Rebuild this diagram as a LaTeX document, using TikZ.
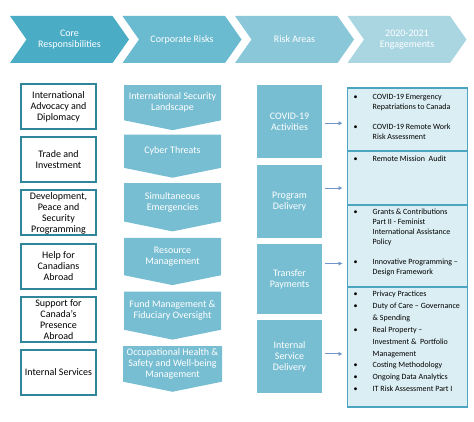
\documentclass[tikz,border=0pt]{standalone}
\usepackage{fontspec}
\setmainfont{Carlito}
\usetikzlibrary{arrows.meta,positioning,shapes.symbols}
\definecolor{chevA}{RGB}{75,172,198}
\definecolor{chevB}{RGB}{106,186,208}
\definecolor{chevC}{RGB}{138,200,217}
\definecolor{chevD}{RGB}{170,214,226}
\definecolor{riskfill}{RGB}{120,190,210}
\definecolor{coreline}{RGB}{49,133,155}
\definecolor{engline}{RGB}{75,165,190}
\definecolor{engfill}{RGB}{219,238,243}
\definecolor{arrowline}{RGB}{110,150,200}

\begin{document}
\begin{tikzpicture}[x=1pt,y=-1pt,
      font=\fontsize{10}{11}\selectfont,node distance=6pt,
      phase/.style={signal,signal from=west,signal to=east,signal pointer angle=110,
                    minimum width=119pt,minimum height=47pt,inner sep=0pt,
                    text=white,align=center},
      corebox/.style={draw=coreline,line width=2pt,minimum width=75pt,
                      minimum height=45pt,inner sep=1pt,align=center},
      riskdown/.style={signal,signal to=south,signal pointer angle=157,fill=riskfill,
                       minimum width=97pt,inner sep=0pt,text=white,align=center},
      areabox/.style={fill=riskfill,minimum width=65pt,minimum height=73pt,
                      text=white,align=center},
      engbox/.style={draw=engline,line width=1.2pt,fill=engfill,
                     minimum width=120pt,outer sep=0pt},
      englist/.style={anchor=north west,inner sep=0pt,align=left},
      arr/.style={-{Latex[length=4pt,width=4.5pt]},line width=1pt,arrowline,
                  shorten <=3pt,shorten >=5pt}]
    \useasboundingbox (0,0) rectangle (474,422);
    % header chevrons
    \node[phase,fill=chevA] (core) at (69.5,39.5) {Core\\Responsibilities};
    \node[phase,fill=chevB] (corp) at (182,39.5) {Corporate Risks};
    \node[phase,fill=chevC] (area) at (294.5,39.5) {Risk Areas};
    \node[phase,fill=chevD] (engage) at (407,39.5) {2020-2021\\Engagements};
    % core responsibilities
    \node[corebox] (diplo) at (58.5,106.5) {International\\Advocacy and\\Diplomacy};
    \node[corebox,below=6.2pt of diplo] (trade) {Trade and\\Investment};
    \node[corebox,below=6.2pt of trade] (devel) {Development,\\Peace and\\Security\\Programming};
    \node[corebox,below=6.2pt of devel] (help) {Help for\\Canadians\\Abroad};
    \node[corebox,below=6.2pt of help] (presence) {Support for\\Canada's\\Presence\\Abroad};
    \node[corebox,below=6.2pt of presence] (internal) {Internal Services};
    % corporate risks
    \node[riskdown,minimum height=44pt,anchor=north] (secur) at (172.5,85)
      {International Security\\Landscape};
    \node[riskdown,minimum height=39pt,below=4pt of secur] (cyber) {Cyber Threats};
    \node[riskdown,minimum height=44pt,below=5pt of cyber] (emerg) {Simultaneous\\Emergencies};
    \node[riskdown,minimum height=43pt,below=6pt of emerg] (resrc) {Resource\\Management};
    \node[riskdown,minimum height=47pt,below=6pt of resrc] (fund)
      {Fund Management \&\\Fiduciary Oversight};
    \node[riskdown,minimum height=45pt,minimum width=99pt,below=6pt of fund] (ohs)
      {Occupational Health \&\\Safety and Well-being\\Management};
    % risk areas
    \node[areabox,anchor=north] (covid) at (289.5,85) {COVID-19\\Activities};
    \node[areabox,below=6pt of covid] (prog) {Program\\Delivery};
    \node[areabox,minimum height=70pt,below=6pt of prog] (transf) {Transfer\\Payments};
    \node[areabox,below=6pt of transf] (servic) {Internal\\Service\\Delivery};
    % engagements
    \node[engbox,minimum height=63pt,anchor=north] (eng1) at (407.5,88) {};
    \node[engbox,minimum height=54pt,below=0pt of eng1] (eng2) {};
    \node[engbox,minimum height=82pt,below=0pt of eng2] (eng3) {};
    \node[engbox,minimum height=120pt,below=0pt of eng3] (eng4) {};
    \node[englist,font=\fontsize{8}{10}\selectfont] (list1)
      at ([xshift=6pt,yshift=-4pt]eng1.north west)
      {\begin{tabular}{@{}p{19pt}@{}l@{}}
       \textbullet & COVID-19 Emergency\\
                   & Repatriations to Canada\\[10pt]
       \textbullet & COVID-19 Remote Work\\
                   & Risk Assessment
       \end{tabular}};
    \node[englist,font=\fontsize{8}{10}\selectfont] (list2)
      at ([xshift=6pt,yshift=-3pt]eng2.north west)
      {\begin{tabular}{@{}p{19pt}@{}l@{}}
       \textbullet & Remote Mission\ \ Audit
       \end{tabular}};
    \node[englist,font=\fontsize{8}{10}\selectfont] (list3)
      at ([xshift=6pt,yshift=-2.5pt]eng3.north west)
      {\begin{tabular}{@{}p{19pt}@{}l@{}}
       \textbullet & Grants \& Contributions\\
                   & Part II - Feminist\\
                   & International Assistance\\
                   & Policy\\[10pt]
       \textbullet & Innovative Programming –\\
                   & Design Framework
       \end{tabular}};
    \node[englist,font=\fontsize{8}{11.9}\selectfont] (list4)
      at ([xshift=6pt,yshift=-1pt]eng4.north west)
      {\begin{tabular}{@{}p{19pt}@{}l@{}}
       \textbullet & Privacy Practices\\
       \textbullet & Duty of Care – Governance\\
                   & \& Spending\\
       \textbullet & Real Property –\\
                   & Investment \&\ \ Portfolio\\
                   & Management\\
       \textbullet & Costing Methodology\\
       \textbullet & Ongoing Data Analytics\\
       \textbullet & IT Risk Assessment Part I
       \end{tabular}};
    % links from risk areas to engagements
    \draw[arr] ([yshift=-1.5pt]covid.east) -- ([yshift=-1.5pt]covid.east -| eng1.west);
    \draw[arr] ([yshift=13pt]prog.east) -- ([yshift=13pt]prog.east -| eng2.west);
    \draw[arr] ([yshift=15.5pt]transf.east) -- ([yshift=15.5pt]transf.east -| eng3.west);
    \draw[arr] ([yshift=3pt]servic.east) -- ([yshift=3pt]servic.east -| eng4.west);
  \end{tikzpicture}
\end{document}
